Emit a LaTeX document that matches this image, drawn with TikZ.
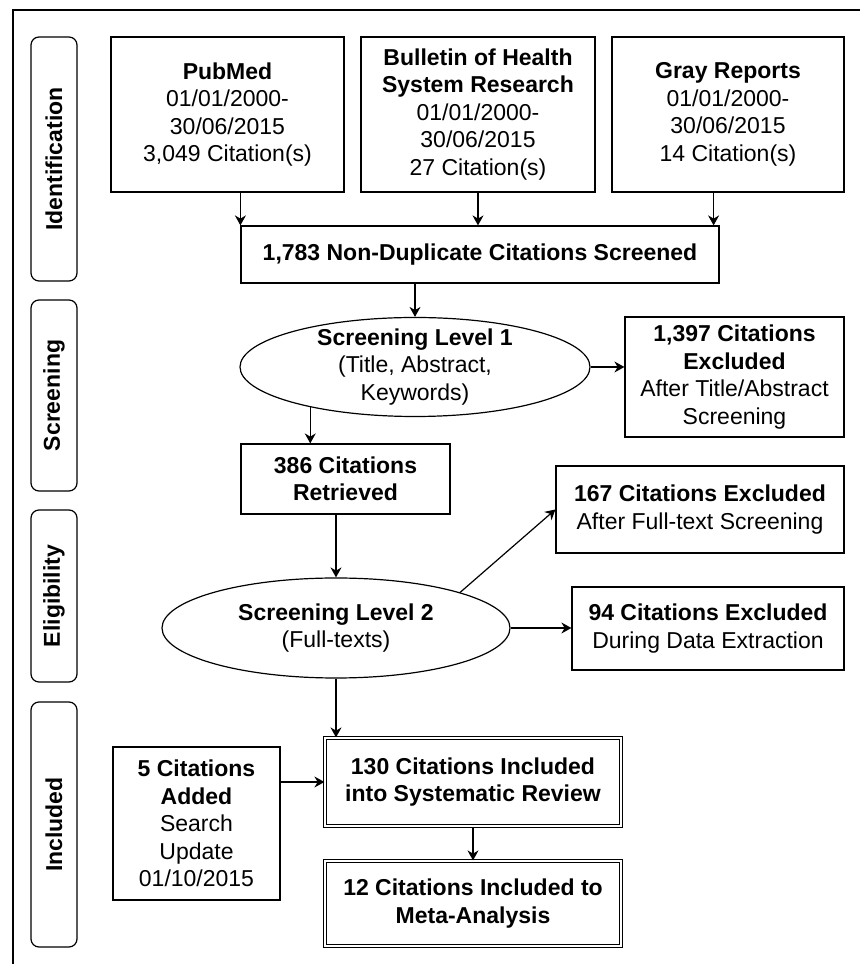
\documentclass[tikz,border=0pt]{standalone}
\usepackage{fontspec}
\setmainfont{Liberation Sans}
\usetikzlibrary{shapes.geometric,arrows.meta}
\tikzset{
	box/.style={draw,line width=1.2pt,align=center,inner sep=2pt},
	dbox/.style={box,double,double distance=2pt},
	oval/.style={ellipse,draw,line width=1.2pt,align=center,inner sep=-8pt},
	phase/.style={draw,line width=1.2pt,rounded corners=8pt,rotate=90,minimum height=46,font=\bfseries\fontsize{23}{27.5}\selectfont},
	flow/.style={line width=1.2pt,-{Stealth[length=10pt,width=11pt]}}
}
\begin{document}
\begin{tikzpicture}[x=1pt,y=1pt,font=\fontsize{23}{27.5}\selectfont]
			\useasboundingbox (0,0) rectangle (860,964);
			\draw[line width=1.2pt](13,0)--(13,954)--(860,954);
			\node[phase,minimum width=244] (ident) at(54,805){Identification};
			\node[phase,minimum width=191] (screen) at(54,568.5){Screening};
			\node[phase,minimum width=172] (elig) at(54,368){Eligibility};
			\node[phase,minimum width=245] (incphase) at(54,139.5){Included};
			\node[box,minimum width=233,minimum height=155] (pubmed) at(227.5,849.5){\textbf{PubMed}\\01/01/2000-\\30/06/2015\\3,049 Citation(s)};
			\node[box,minimum width=234,minimum height=155] (bulletin) at(478,849.5){\textbf{Bulletin of Health}\\\textbf{System Research}\\01/01/2000-\\30/06/2015\\27 Citation(s)};
			\node[box,minimum width=232,minimum height=155] (gray) at(728,849.5){\textbf{Gray Reports}\\01/01/2000-\\30/06/2015\\14 Citation(s)};
			\node[box,minimum width=478,minimum height=57] (nondup) at(480,709.5){\textbf{1,783 Non-Duplicate Citations Screened}};
			\node[oval,minimum width=350,minimum height=99] (lev1) at(415,597){\textbf{Screening Level 1}\\(Title, Abstract,\\Keywords)};
			\node[box,minimum width=219,minimum height=120] (excl1) at(734.5,587){\textbf{1,397 Citations}\\\textbf{Excluded}\\After Title/Abstract\\Screening};
			\node[box,minimum width=209,minimum height=70] (retr) at(345.5,485){\textbf{386 Citations}\\\textbf{Retrieved}};
			\node[box,minimum width=288,minimum height=87] (excl2) at(700,454.5){\textbf{167 Citations Excluded}\\After Full-text Screening};
			\node[oval,minimum width=348,minimum height=100] (lev2) at(336,336){\textbf{Screening Level 2}\\(Full-texts)};
			\node[box,minimum width=272,minimum height=83] (excl3) at(708,335.5){\textbf{94 Citations Excluded}\\During Data Extraction};
			\node[box,minimum width=167,minimum height=153] (added) at(196.5,140.5){\textbf{5 Citations}\\\textbf{Added}\\Search\\Update\\01/10/2015};
			\node[dbox,minimum width=296,minimum height=88] (incl) at(473,182){\textbf{130 Citations Included}\\\textbf{into Systematic Review}};
			\node[dbox,minimum width=296,minimum height=85] (meta) at(473,60.5){\textbf{12 Citations Included to}\\\textbf{Meta-Analysis}};
			\coordinate (gin) at([xshift=-6pt]nondup.north east);
			\draw[flow](pubmed.south -| nondup.north west)--(nondup.north west);
			\draw[flow](bulletin.south)--(bulletin.south |- nondup.north);
			\draw[flow](gray.south -| gin)--(gin);
			\draw[flow](nondup.south -| lev1.north)--(lev1.north);
			\draw[flow](lev1.east)--(lev1.east -| excl1.west);
			\draw[flow](lev1.201)--(lev1.201 |- retr.north);
			\draw[flow](retr.south -| lev2.north)--(lev2.north);
			\draw[flow](lev2.16)--(excl2.west);
			\draw[flow](lev2.east)--(lev2.east -| excl3.west);
			\draw[flow](lev2.south)--(lev2.south |- incl.north);
			\draw[flow](incl.west -| added.east)--(incl.west);
			\draw[flow](incl.south)--(meta.north);
			\end{tikzpicture}
\end{document}
